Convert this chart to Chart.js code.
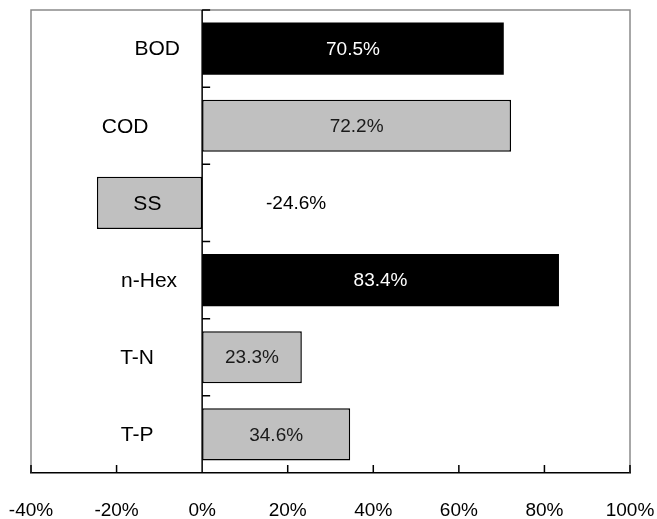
<!DOCTYPE html>
<html>
<head>
<meta charset="utf-8">
<title>Removal rates</title>
<script src="https://cdn.jsdelivr.net/npm/chart.js@4/dist/chart.umd.min.js"></script>
<style>
  html, body { margin: 0; padding: 0; background: #ffffff; }
  #wrap { width: 657px; height: 519px; }
</style>
</head>
<body>
<div id="wrap"><canvas id="chart" width="657" height="519"></canvas></div>
<script>
// ---- data ----
const categories = ['BOD', 'COD', 'SS', 'n-Hex', 'T-N', 'T-P'];
const removalRates = [70.5, 72.2, -24.6, 83.4, 23.3, 34.6];
const xTickValues = [-40, -20, 0, 20, 40, 60, 80, 100];

// ---- styling ----
const barFills = ['#000000', '#c0c0c0', '#c0c0c0', '#000000', '#c0c0c0', '#c0c0c0'];
// where each category name sits, in axis units (%)
const nameCenters = [-10.5, -18, -12.8, -12.4, -15.2, -15.2];

const numFont = { family: '"Liberation Sans", Arial, sans-serif', size: 19 };
const nameFont = { family: '"Liberation Sans", Arial, sans-serif', size: 21 };

const decorations = {
  id: 'decorations',
  afterDatasetsDraw(chart) {
    const { ctx, chartArea: a, scales: { x, y } } = chart;
    ctx.save();

    // grey frame on left, top and right
    ctx.strokeStyle = '#8a8a8a';
    ctx.lineWidth = 1.5;
    ctx.beginPath();
    ctx.moveTo(a.left, a.bottom);
    ctx.lineTo(a.left, a.top);
    ctx.lineTo(a.right, a.top);
    ctx.lineTo(a.right, a.bottom);
    ctx.stroke();

    // zero line with category divider ticks
    const x0 = x.getPixelForValue(0);
    ctx.strokeStyle = '#000000';
    ctx.lineWidth = 1.5;
    ctx.beginPath();
    ctx.moveTo(x0, a.top);
    ctx.lineTo(x0, a.bottom);
    for (let i = 0; i < categories.length; i++) {
      const yy = y.getPixelForValue(i - 0.5);
      ctx.moveTo(x0, yy);
      ctx.lineTo(x0 + 8, yy);
    }
    // inward tick marks on the value axis
    xTickValues.forEach(v => {
      const px = x.getPixelForValue(v);
      ctx.moveTo(px, a.bottom);
      ctx.lineTo(px, a.bottom - 8);
    });
    ctx.stroke();

    const meta = chart.getDatasetMeta(0);
    ctx.textAlign = 'center';
    ctx.textBaseline = 'middle';

    // category names
    ctx.fillStyle = '#000000';
    ctx.font = nameFont.size + 'px ' + nameFont.family;
    categories.forEach((name, i) => {
      const bar = meta.data[i];
      ctx.fillText(name, x.getPixelForValue(nameCenters[i]), bar.y + 1);
    });

    // value labels
    ctx.font = numFont.size + 'px ' + numFont.family;
    removalRates.forEach((v, i) => {
      const bar = meta.data[i];
      const text = v.toFixed(1) + '%';
      if (v < 0) {
        ctx.fillStyle = '#000000';
        ctx.fillText(text, x0 + 94, bar.y + 1);
      } else {
        ctx.fillStyle = barFills[i] === '#000000' ? '#ffffff' : '#1a1a1a';
        ctx.fillText(text, (bar.x + bar.base) / 2, bar.y + 1);
      }
    });
    ctx.restore();
  }
};

new Chart(document.getElementById('chart'), {
  type: 'bar',
  data: {
    labels: categories,
    datasets: [{
      data: removalRates,
      backgroundColor: barFills,
      borderColor: '#000000',
      borderWidth: ctx => (barFills[ctx.dataIndex] === '#000000' ? 0 : 1.5),
      borderSkipped: false,
      barPercentage: 0.675,
      categoryPercentage: 1
    }]
  },
  options: {
    indexAxis: 'y',
    responsive: false,
    animation: false,
    devicePixelRatio: 1,
    layout: { padding: { top: 10, left: 31, right: 27, bottom: 0 } },
    plugins: { legend: { display: false }, tooltip: { enabled: false } },
    scales: {
      x: {
        type: 'linear',
        min: -40,
        max: 100,
        afterBuildTicks: scale => { scale.ticks = xTickValues.map(v => ({ value: v })); },
        afterFit: scale => {
          scale.height = 46;
          scale.paddingLeft = 0;
          scale.paddingRight = 0;
        },
        ticks: {
          callback: v => v + '%',
          color: '#000000',
          font: numFont,
          padding: 26,
          maxRotation: 0,
          autoSkip: false
        },
        grid: { display: false, drawTicks: false },
        border: { display: true, color: '#000000', width: 1.5 }
      },
      y: {
        type: 'category',
        display: false
      }
    }
  },
  plugins: [decorations]
});
</script>
</body>
</html>
